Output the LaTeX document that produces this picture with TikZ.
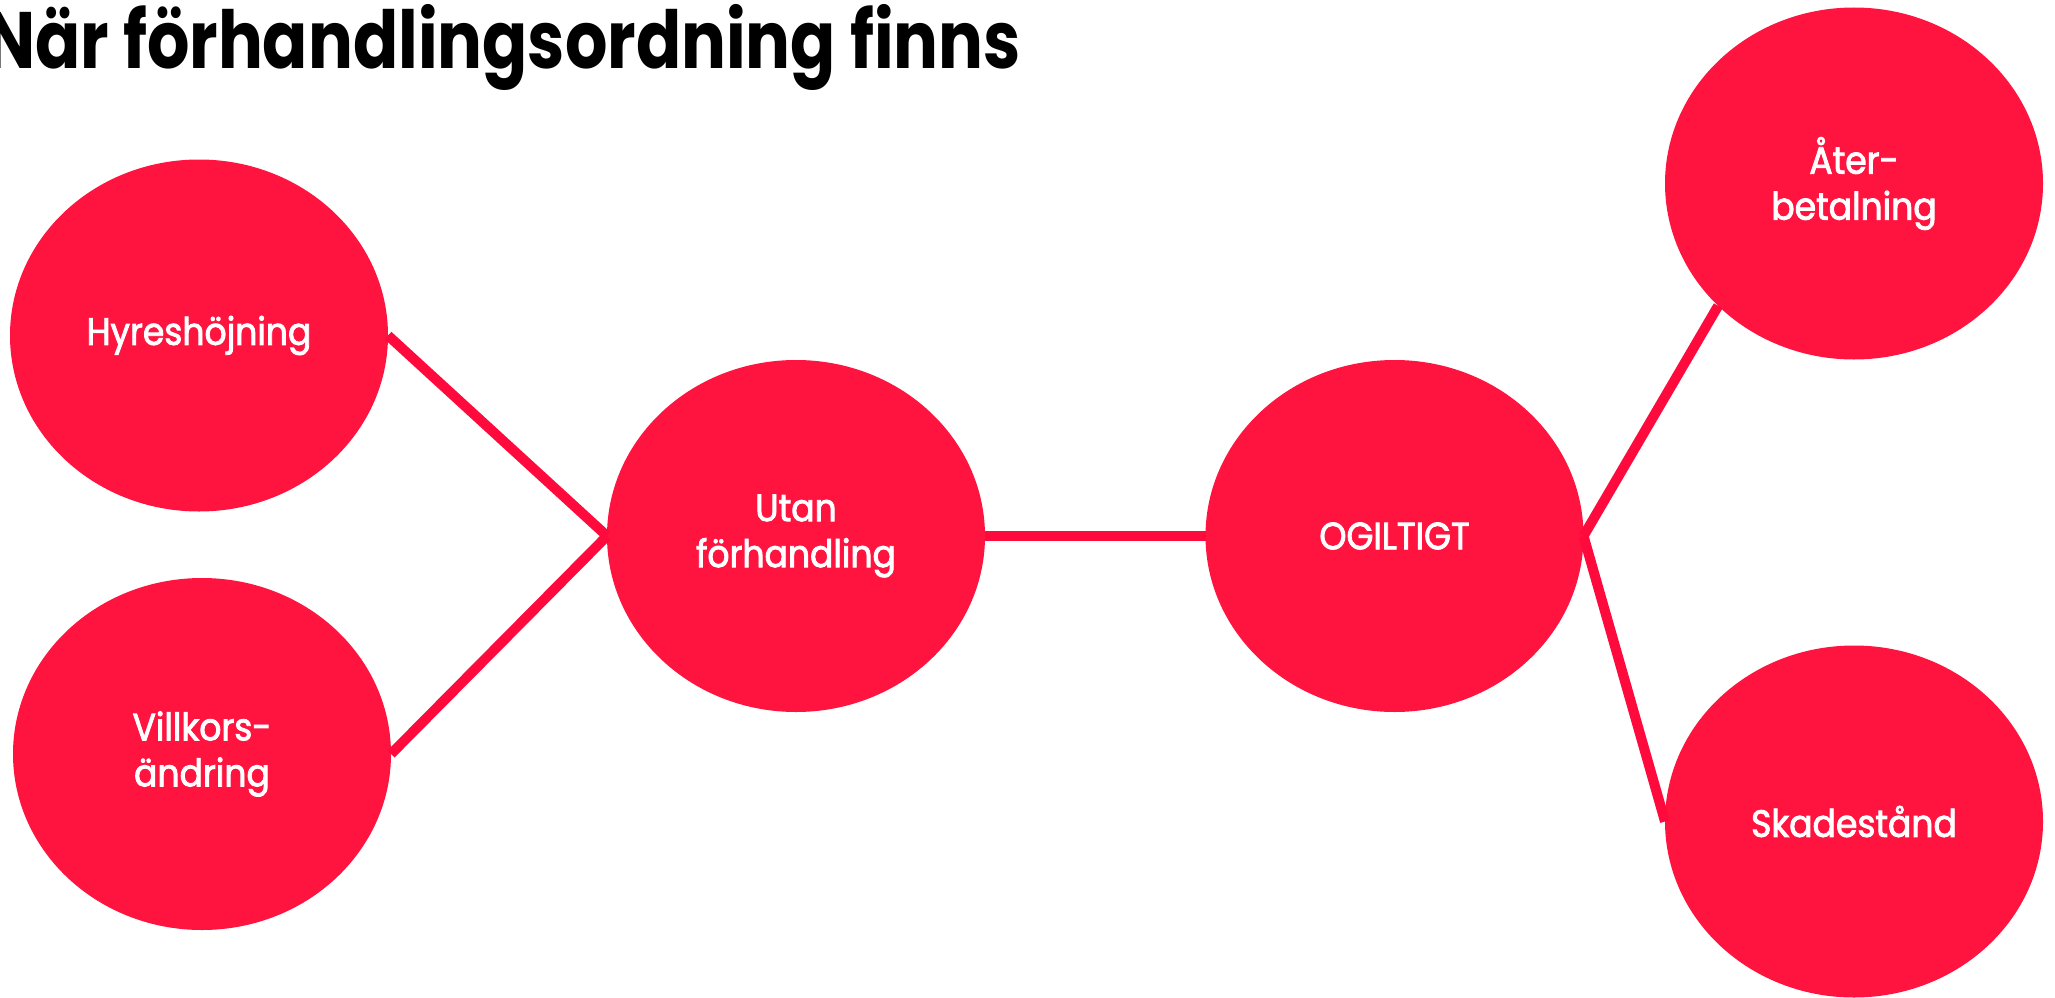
\documentclass[tikz,border=0pt]{standalone}
\usepackage{fontspec}
\usetikzlibrary{shapes.geometric}
\setmainfont{Poppins}
\newfontfamily\titlefont[FakeStretch=0.833]{Poppins}
\newfontfamily\labelfont[FakeStretch=0.91,FakeBold=2.2]{Poppins}
\definecolor{bubred}{HTML}{FF1440}
\definecolor{linered}{HTML}{FF0A3D}
\begin{document}
\begin{tikzpicture}[x=1pt,y=-1pt,
  bub/.style={ellipse, fill=bubred, minimum width=378pt, minimum height=352pt,
    inner sep=0pt, outer sep=0pt, text=white, align=center,
    font=\labelfont\fontsize{38}{46}\selectfont},
  conn/.style={draw=linered, line width=10pt},
  ttl/.style={anchor=base east, inner sep=0pt, font=\titlefont\bfseries\fontsize{80}{90}\selectfont}]
\useasboundingbox (0,0) rectangle (2055,998);
\node[bub] (hyr) at (199,335.5) {Hyreshöjning};
\node[bub] (vil) at (202,754) {Villkors-\\ändring};
\node[bub] (utan) at (796,536) {Utan\\förhandling};
\node[bub] (ogil) at (1394.5,536) {OGILTIGT};
\node[bub] (ater) at (1854,183.5) {Åter-\\betalning};
\node[bub] (skad) at (1854,821.5) {Skadestånd};
\node[ttl] (title) at (1021,68) {När förhandlingsordning finns};
\draw[conn] (hyr.east) -- (utan.west);
\draw[conn] (vil.east) -- (utan.west);
\draw[conn] (utan.east) -- (ogil.west);
\draw[conn] (ogil.east) -- (ater.222);
\draw[conn] (ogil.east) -- (skad.west);
\end{tikzpicture}
\end{document}
